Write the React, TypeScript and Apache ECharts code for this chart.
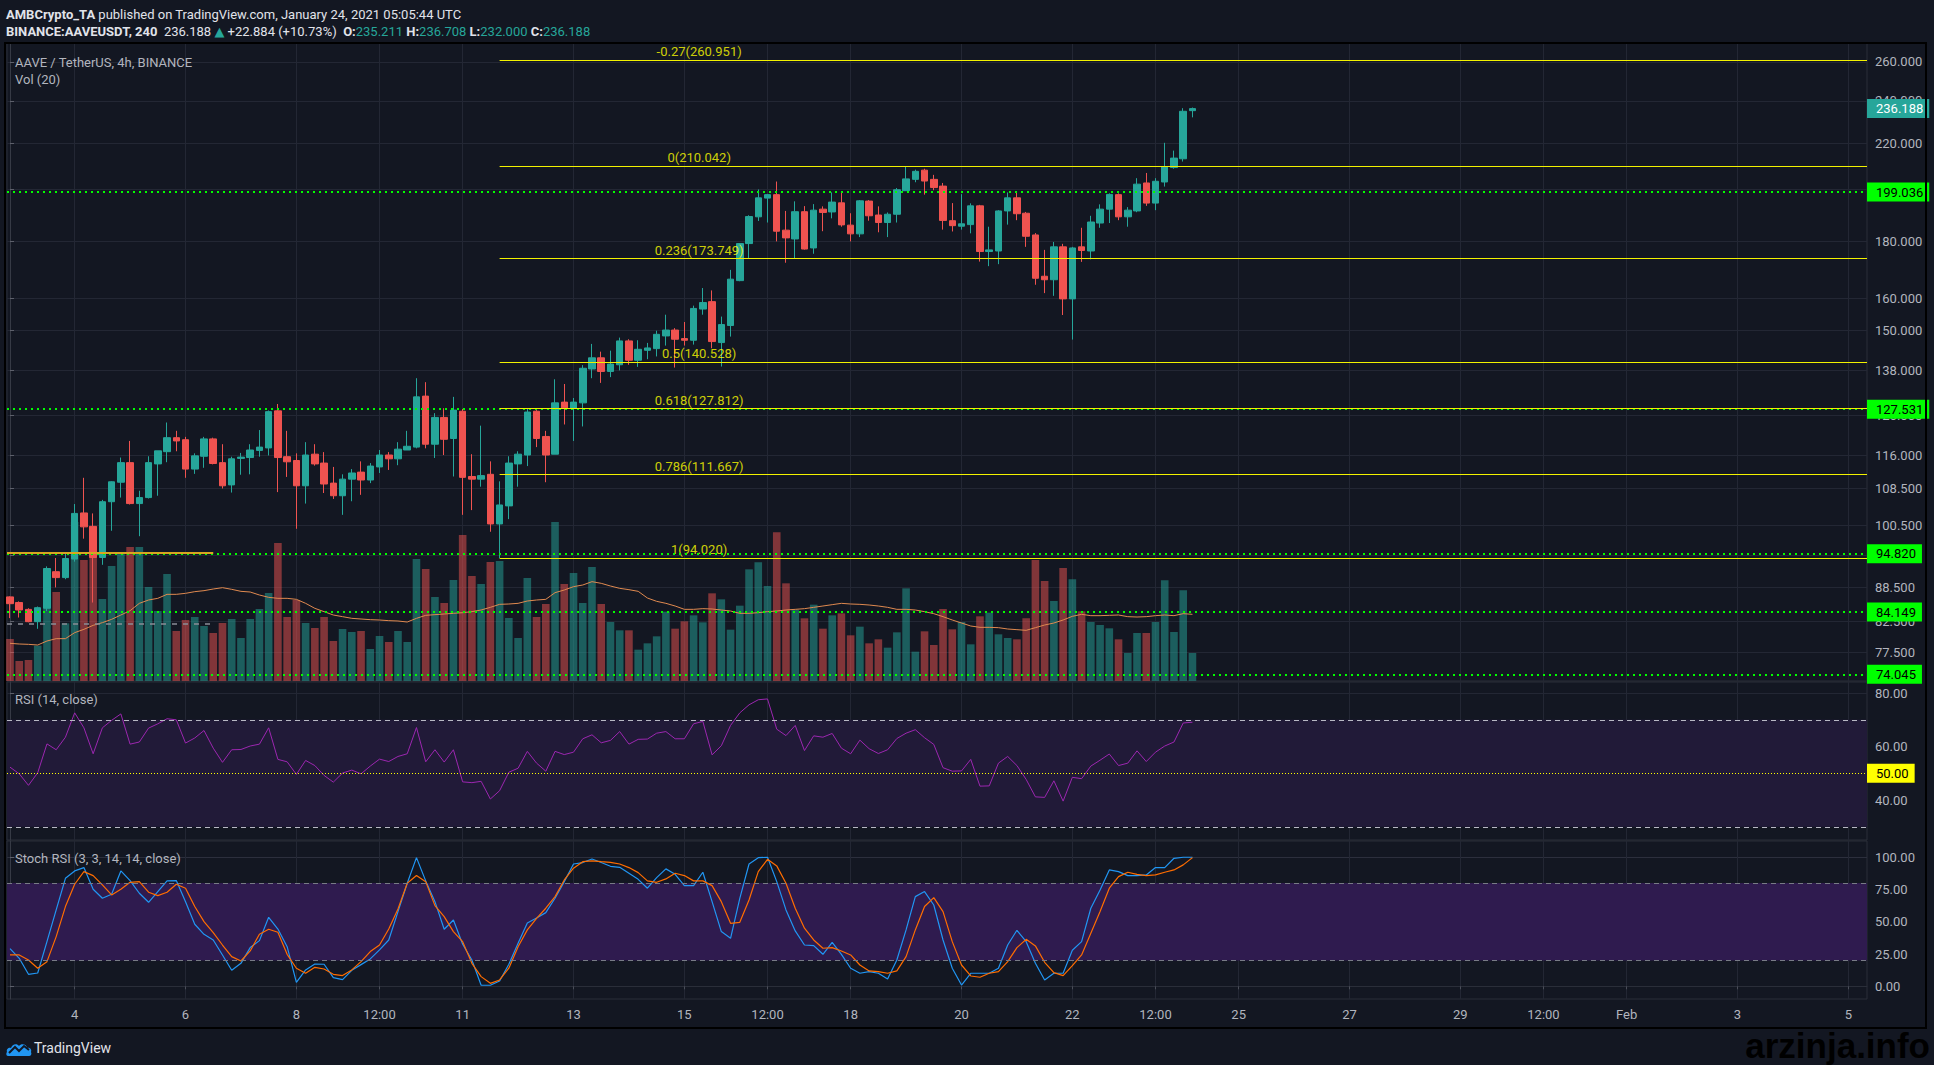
import React, { useEffect, useRef } from "react";
import * as echarts from "echarts";

// ---------- DATA (4h candles, index 0 = Jan 2 20:00, index 7 = Jan 4 00:00) ----------
const opens = [
  86.8, 85.8, 84.6, 82.5, 84.8, 91.4, 90.3, 93.8, 103.1, 100.3,
  94.1, 105.5, 109.8, 114.3, 105.1, 106.4, 114.0, 116.9, 120.3, 119.8,
  112.8, 115.8, 120.0, 114.3, 109.2, 115.3, 115.5, 117.2, 117.8, 127.1,
  115.7, 114.8, 109.0, 116.3, 114.2, 109.6, 106.8, 110.5, 112.1, 110.3,
  113.3, 116.1, 115.2, 117.3, 118.0, 131.0, 118.7, 125.4, 120.1, 127.0,
  111.1, 110.5, 111.6, 100.8, 104.6, 114.0, 116.1, 127.0, 120.6, 116.3,
  129.4, 127.8, 129.2, 138.5, 141.7, 137.8, 139.7, 146.7, 141.0, 143.9,
  144.4, 148.2, 150.0, 147.4, 146.9, 156.6, 159.0, 146.2, 151.4, 166.0,
  179.1, 189.2, 196.6, 198.0, 184.1, 180.8, 191.2, 177.5, 192.2, 191.1,
  194.7, 186.0, 182.7, 195.4, 189.9, 187.0, 190.2, 199.6, 204.3, 208.2,
  204.3, 201.5, 187.7, 185.6, 186.2, 193.5, 176.2, 176.4, 191.5, 196.7,
  190.6, 182.3, 167.5, 166.3, 177.9, 159.9, 177.9, 176.4, 186.8, 192.2,
  198.0, 189.2, 191.5, 202.8, 194.6, 203.2, 209.3, 213.1, 235.211,
];
const highs = [
  86.9, 86.0, 84.8, 85.1, 92.4, 94.0, 95.0, 105.0, 110.8, 103.0,
  105.9, 110.0, 115.5, 119.5, 107.9, 115.8, 117.1, 124.1, 122.0, 120.5,
  116.5, 120.5, 120.3, 118.7, 115.7, 116.6, 118.7, 122.2, 127.2, 128.9,
  122.0, 116.5, 119.2, 118.7, 116.8, 113.3, 111.6, 112.8, 114.6, 114.2,
  117.3, 116.8, 119.2, 122.0, 135.9, 134.8, 126.5, 127.8, 130.8, 127.6,
  116.3, 123.3, 114.6, 110.0, 115.8, 117.0, 127.8, 127.3, 122.0, 135.6,
  134.3, 130.5, 139.6, 145.8, 143.5, 143.8, 147.7, 147.2, 146.9, 146.1,
  149.8, 154.8, 150.6, 152.5, 157.7, 163.5, 162.7, 154.2, 169.7, 179.3,
  189.8, 200.1, 198.3, 203.4, 191.5, 195.3, 193.4, 194.2, 193.3, 198.9,
  199.3, 190.6, 195.8, 195.8, 193.3, 190.9, 200.7, 209.7, 208.4, 208.8,
  206.2, 202.8, 194.6, 198.2, 194.5, 193.9, 185.4, 191.8, 198.9, 198.9,
  191.1, 183.0, 176.8, 179.7, 179.0, 177.9, 185.0, 189.6, 194.1, 198.5,
  198.5, 193.0, 204.8, 207.0, 204.8, 220.2, 216.7, 236.4, 236.708,
];
const lows = [
  83.1, 83.2, 82.4, 81.3, 84.3, 88.5, 90.0, 93.3, 97.8, 85.8,
  92.7, 99.4, 106.4, 104.9, 98.3, 106.2, 106.8, 114.4, 117.0, 110.8,
  111.7, 113.1, 113.9, 108.4, 107.5, 111.5, 111.6, 115.7, 116.0, 107.6,
  111.0, 99.8, 105.1, 113.6, 107.4, 106.1, 102.7, 105.6, 107.0, 109.6,
  111.9, 112.6, 113.7, 117.3, 117.7, 117.7, 115.4, 116.1, 111.1, 102.7,
  103.7, 108.8, 99.2, 94.0, 101.8, 108.8, 113.5, 118.0, 109.8, 116.3,
  123.6, 119.5, 123.1, 135.9, 134.6, 136.2, 138.1, 139.7, 139.1, 141.3,
  142.1, 145.3, 138.9, 145.3, 145.6, 154.8, 144.5, 139.2, 148.0, 165.8,
  173.8, 187.6, 187.0, 179.9, 172.2, 173.8, 176.9, 175.4, 183.7, 188.6,
  185.4, 179.9, 181.5, 187.7, 183.3, 181.5, 187.0, 199.6, 203.1, 198.0,
  199.8, 184.3, 183.6, 184.3, 182.9, 172.6, 171.0, 171.7, 186.2, 187.9,
  177.9, 164.6, 161.8, 160.9, 154.7, 147.1, 172.5, 173.4, 185.0, 186.8,
  187.9, 185.4, 191.0, 193.5, 191.8, 201.3, 208.8, 211.9, 232.0,
];
const closes = [
  85.6, 84.5, 82.5, 84.9, 92.0, 90.3, 93.9, 103.0, 100.2, 94.1,
  105.5, 109.9, 114.3, 105.1, 106.4, 114.3, 117.1, 120.3, 119.5, 112.8,
  115.9, 120.0, 114.1, 109.0, 115.2, 115.6, 117.3, 118.0, 126.9, 115.5,
  114.5, 109.0, 116.1, 114.0, 109.4, 106.8, 110.5, 111.9, 110.3, 113.5,
  116.1, 115.2, 117.5, 118.2, 130.8, 118.7, 125.4, 119.9, 127.3, 110.9,
  110.5, 111.3, 100.8, 104.8, 114.2, 116.3, 126.8, 120.1, 116.1, 129.2,
  127.9, 129.4, 138.7, 141.7, 137.8, 139.9, 146.7, 141.0, 144.2, 144.6,
  148.7, 150.0, 147.2, 146.9, 156.8, 158.7, 146.5, 151.7, 166.5, 179.1,
  189.3, 196.7, 198.0, 183.7, 181.2, 191.2, 177.1, 191.8, 190.9, 195.0,
  186.1, 182.7, 195.5, 189.6, 187.0, 190.2, 200.0, 204.5, 207.7, 203.6,
  200.9, 187.8, 185.8, 186.5, 193.5, 176.2, 176.8, 191.5, 196.7, 190.4,
  181.8, 166.8, 166.3, 177.9, 159.9, 177.5, 176.6, 187.2, 192.2, 198.1,
  189.2, 191.8, 202.3, 194.6, 203.5, 209.7, 213.4, 234.9, 236.188,
];
// volume in thousands AAVE (estimated)
const volumes = [
  12.6, 6.0, 6.3, 10.6, 33.0, 26.7, 17.3, 47.7, 36.3, 42.6,
  24.6, 34.5, 38.2, 40.2, 40.2, 28.2, 21.0, 32.1, 15.0, 18.3,
  19.2, 16.5, 14.4, 17.4, 18.6, 12.9, 18.6, 21.6, 26.4, 41.4,
  19.2, 24.3, 17.4, 15.9, 19.2, 12.0, 15.6, 14.7, 15.0, 9.6,
  13.5, 11.7, 15.0, 11.7, 36.6, 33.6, 25.2, 23.4, 30.3, 43.8,
  31.5, 29.1, 35.7, 36.0, 18.9, 12.9, 30.9, 19.2, 23.1, 47.7,
  29.1, 32.4, 23.4, 34.2, 23.1, 17.7, 15.2, 15.2, 9.4, 11.3,
  13.4, 20.8, 15.7, 17.9, 19.7, 17.6, 26.3, 24.5, 15.4, 22.6,
  33.5, 35.6, 28.5, 44.6, 29.3, 21.4, 18.8, 22.9, 15.7, 19.7,
  20.3, 13.7, 16.3, 11.3, 12.5, 10.0, 14.6, 27.8, 8.8, 14.9,
  10.8, 21.6, 15.5, 17.7, 11.0, 19.4, 20.5, 14.0, 12.9, 12.5,
  18.8, 36.3, 30.0, 24.0, 33.9, 30.5, 20.9, 17.7, 16.8, 15.8,
  12.5, 8.4, 14.4, 14.4, 17.7, 30.2, 14.7, 27.2, 8.4,
];
const volumeMA = [
  11.3, 11.1, 11.0, 10.8, 12.0, 12.7, 12.7, 14.5, 15.5, 16.7,
  17.5, 18.5, 19.8, 21.1, 23.3, 24.3, 24.8, 26.0, 26.0, 26.3,
  26.8, 27.1, 27.6, 28.0, 27.5, 26.9, 26.7, 25.8, 25.1, 24.8,
  24.8, 24.5, 23.3, 21.8, 20.8, 19.8, 19.3, 18.8, 18.6, 18.4,
  18.3, 18.1, 18.0, 17.7, 18.8, 19.7, 19.9, 20.1, 20.3, 20.5,
  20.8, 21.3, 22.1, 23.0, 23.1, 23.3, 24.0, 24.3, 24.5, 26.5,
  27.3, 28.3, 28.8, 29.8, 29.3, 28.5, 27.8, 27.4, 26.9, 24.9,
  23.9, 23.3, 22.5, 21.5, 21.5, 21.7, 21.6, 21.3, 21.0, 20.3,
  20.3, 20.5, 20.8, 21.0, 21.3, 21.5, 21.7, 22.1, 22.5, 22.9,
  23.3, 23.1, 23.0, 22.8, 22.5, 22.1, 21.5, 21.5, 21.3, 20.8,
  20.2, 19.3, 18.3, 17.4, 16.5, 16.1, 16.1, 16.0, 15.6, 15.4,
  15.2, 16.0, 16.8, 17.4, 18.3, 19.4, 20.0, 19.6, 19.6, 19.7,
  19.8, 19.3, 19.2, 19.3, 19.6, 19.8, 19.6, 20.2, 20.0,
];
const rsi = [
  52.3, 49.8, 45.5, 50.2, 61.0, 58.8, 63.5, 72.6, 67.0, 57.3,
  67.0, 69.8, 72.2, 60.9, 61.7, 66.9, 68.5, 70.4, 70.0, 61.3,
  63.2, 66.0, 59.4, 54.1, 58.8, 58.9, 60.2, 60.9, 67.0, 55.2,
  54.3, 49.6, 54.8, 52.9, 49.2, 46.7, 50.1, 51.2, 49.8, 52.7,
  55.3, 54.4, 56.3, 57.3, 67.1, 54.3, 58.8, 54.2, 58.8, 46.8,
  46.5, 47.0, 40.4, 43.5, 50.4, 51.9, 58.2, 53.8, 50.8, 58.2,
  57.0, 57.9, 62.9, 64.4, 61.4, 62.3, 65.6, 60.9, 62.7, 62.8,
  65.0, 65.6, 62.9, 62.9, 68.5, 69.4, 56.9, 60.3, 67.9, 72.6,
  75.6, 77.5, 77.8, 66.5, 64.1, 67.9, 58.5, 64.0, 63.5, 64.9,
  59.4, 57.3, 62.4, 59.2, 57.4, 58.8, 63.0, 65.0, 66.3, 63.3,
  60.8, 52.1, 50.8, 50.9, 55.2, 45.2, 45.3, 53.8, 56.3, 52.9,
  47.7, 41.2, 41.0, 47.2, 39.6, 48.5, 48.0, 52.7, 54.9, 57.2,
  52.9, 53.8, 58.4, 54.4, 57.9, 60.2, 61.7, 68.8, 69.1,
];
const stochK = [
  29.2, 21.7, 9.3, 10.3, 34.6, 59.2, 83.7, 89.4, 92.0, 75.2,
  68.2, 71.3, 89.4, 81.9, 72.1, 65.1, 73.4, 81.7, 81.9, 65.6,
  48.1, 40.3, 35.9, 24.3, 12.4, 17.8, 30.0, 35.4, 53.5, 44.4,
  30.7, 3.1, 12.7, 17.3, 17.1, 6.7, 5.2, 12.4, 16.8, 21.2,
  28.2, 35.9, 57.9, 79.8, 99.7, 81.7, 65.6, 44.2, 51.4, 32.6,
  20.4, 0.8, 0.8, 4.1, 17.1, 33.3, 49.1, 53.0, 57.1, 68.2,
  81.1, 94.8, 95.9, 98.7, 95.9, 93.0, 92.2, 87.6, 82.9, 76.0,
  84.2, 91.0, 86.8, 78.0, 78.0, 88.4, 65.6, 42.4, 37.2, 68.2,
  94.8, 99.7, 100, 81.1, 59.2, 42.9, 32.0, 31.5, 24.8, 34.1,
  24.8, 14.0, 10.1, 11.4, 10.1, 5.7, 20.4, 43.7, 69.5, 73.4,
  63.0, 35.9, 14.0, 1.0, 10.1, 10.1, 10.1, 14.0, 32.0, 43.4,
  34.6, 17.8, 4.9, 10.1, 10.1, 27.9, 34.6, 60.5, 74.7, 90.2,
  88.9, 85.8, 85.8, 86.3, 92.0, 92.0, 99.2, 100, 100,
];
const stochD = [
  24.3, 24.3, 20.4, 14.0, 19.1, 38.5, 61.8, 79.1, 88.9, 85.8,
  78.6, 70.8, 75.2, 80.6, 81.1, 72.9, 70.3, 72.9, 79.1, 76.0,
  61.8, 50.1, 41.6, 32.0, 23.0, 19.6, 27.4, 40.3, 44.2, 41.9,
  24.8, 14.0, 10.1, 14.7, 13.4, 9.3, 8.3, 12.7, 19.1, 26.9,
  32.0, 44.4, 59.9, 79.8, 85.8, 81.1, 62.5, 54.0, 42.4, 34.6,
  17.8, 7.5, 2.3, 4.9, 14.0, 30.7, 43.7, 52.7, 60.5, 69.5,
  82.4, 91.5, 96.6, 97.2, 96.6, 96.1, 94.8, 92.0, 88.1, 81.7,
  80.6, 83.2, 87.6, 85.8, 81.7, 81.7, 78.0, 65.6, 48.8, 49.6,
  66.9, 88.9, 98.4, 93.3, 79.8, 60.5, 45.0, 35.9, 29.5, 30.0,
  27.4, 24.3, 16.5, 11.9, 11.4, 10.1, 11.9, 23.0, 43.7, 61.8,
  68.7, 57.9, 34.6, 16.5, 8.0, 7.0, 10.1, 11.4, 19.1, 30.0,
  36.4, 31.3, 18.6, 10.6, 8.3, 16.0, 24.3, 41.1, 57.9, 76.0,
  85.0, 88.4, 86.8, 85.8, 86.3, 88.4, 90.2, 94.1, 99.7,
];
// time axis ticks (candle index -> label)
const timeTickIdx = [7, 19, 31, 40, 49, 61, 73, 82, 91, 103, 115, 124, 133, 145, 157, 166, 175, 187, 199];
const timeTickText = ["4", "6", "8", "12:00", "11", "13", "15", "12:00", "18", "20", "22", "12:00", "25", "27", "29", "12:00", "Feb", "3", "5"];
const priceTicks = [77.5, 82.5, 88.5, 94.5, 100.5, 108.5, 116, 126, 138, 150, 160, 180, 200, 220, 240, 260];
const rsiTicks = [40, 60, 80];
const stochTicks = [0, 25, 50, 75, 100];
// Fibonacci retracement (drawn from the candle at index 53)
const fibLevels = [-0.27, 0, 0.236, 0.5, 0.618, 0.786, 1];
const fibPrices = [260.951, 210.042, 173.749, 140.528, 127.812, 111.667, 94.02];
const fibStartIdx = 53;
const fibLabelIdx = 74.6;
// horizontal support / resistance lines
const hLevels = [199.036, 127.531, 94.82, 84.149, 74.045];
const lastPrice = 236.188;
const oldLevel = 95.1;
const oldDashLevel = 82.15;
const oldLineEndIdx = 22;

// ---------- layout ----------
const XMIN = -0.325;
const XMAX = 201.02;
const FONT = 'Roboto, "DejaVu Sans", sans-serif';
const TXT = "#b2b5be";
const GRIDC = "#232734";
const UP = "#26a69a";
const DOWN = "#ef5350";

function tickLabel(v: number) {
  const k = timeTickIdx.indexOf(Math.round(v));
  return k >= 0 ? timeTickText[k] : "";
}

const logoPath =
  "M2 16 C0 16 0 13 1 12 C0 9 3 7 5 8 C6 4 11 3 13 6 C15 3 21 4 21 8 C24 7 26 10 25 12 C26 14 25 16 23 16 Z";
echarts.graphic.registerShape("tvlogo", echarts.graphic.extendPath(logoPath, {}));

export default function App() {
  const ref = useRef<HTMLDivElement>(null);
  useEffect(() => {
    if (!ref.current) return;
    const chart = echarts.init(ref.current, undefined, { renderer: "svg" });

    const xAxisFor = (gi: number, show: boolean) => ({
      type: "value",
      gridIndex: gi,
      min: XMIN,
      max: XMAX,
      axisLine: { show, lineStyle: { color: "#2a2e39" } },
      axisTick: { show, customValues: timeTickIdx, length: 3, lineStyle: { color: "#4a4e59" } },
      axisLabel: {
        show,
        customValues: timeTickIdx,
        formatter: tickLabel,
        color: TXT,
        fontSize: 13,
        fontFamily: FONT,
        margin: 9,
      },
      splitLine: { show: true, lineStyle: { color: GRIDC, width: 1 } },
    });

    const yLabel = (ticks: number[], digits: number) => ({
      customValues: ticks,
      formatter: (v: number) => v.toFixed(digits),
      color: TXT,
      fontSize: 13,
      fontFamily: FONT,
      margin: 8,
    });
    const yTick = (ticks: number[]) => ({
      show: true,
      customValues: ticks,
      length: 4,
      lineStyle: { color: "#5d606b" },
    });

    const candleData = opens.map((o, i) => [i, o, closes[i], lows[i], highs[i]]);
    const volData = volumes.map((v, i) => ({
      value: [i, v],
      itemStyle: {
        color: closes[i] >= opens[i] ? "rgba(38,166,154,0.5)" : "rgba(239,83,80,0.5)",
      },
    }));

    const boxLabel = (bg: string, fg: string) => ({
      show: true,
      position: "end",
      distance: 0,
      backgroundColor: bg,
      color: fg,
      fontSize: 13,
      fontFamily: FONT,
      padding: [3, 6, 3, 9],
      formatter: "{b}",
    });

    const option: any = {
      animation: false,
      backgroundColor: "#131722",
      grid: [
        { left: 7, top: 43, width: 1860, height: 638, show: true, borderColor: "#2a2e39", borderWidth: 1 },
        { left: 7, top: 682, width: 1860, height: 158, show: true, borderColor: "#2a2e39", borderWidth: 1 },
        { left: 7, top: 841, width: 1860, height: 158, show: true, borderColor: "#2a2e39", borderWidth: 1 },
      ],
      xAxis: [xAxisFor(0, false), xAxisFor(1, false), xAxisFor(2, true)],
      yAxis: [
        {
          type: "log",
          logBase: 10,
          gridIndex: 0,
          position: "right",
          min: 73.05,
          max: 270.2,
          axisLine: { show: true, lineStyle: { color: "#363a45" } },
          axisTick: yTick(priceTicks),
          axisLabel: yLabel(priceTicks, 3),
          splitLine: { show: true, lineStyle: { color: GRIDC } },
        },
        {
          type: "value",
          gridIndex: 0,
          min: 0,
          max: 191.4,
          show: false,
          splitLine: { show: false },
        },
        {
          type: "value",
          gridIndex: 1,
          position: "right",
          min: 25.07,
          max: 84.13,
          axisLine: { show: true, lineStyle: { color: "#363a45" } },
          axisTick: yTick(rsiTicks),
          axisLabel: yLabel(rsiTicks, 2),
          splitLine: { show: true, lineStyle: { color: GRIDC } },
        },
        {
          type: "value",
          gridIndex: 2,
          position: "right",
          min: -9.84,
          max: 112.6,
          axisLine: { show: true, lineStyle: { color: "#363a45" } },
          axisTick: yTick(stochTicks),
          axisLabel: yLabel(stochTicks, 2),
          splitLine: { show: true, lineStyle: { color: "#2c2f3d" } },
        },
      ],
      series: [
        {
          type: "bar",
          name: "Volume",
          xAxisIndex: 0,
          yAxisIndex: 1,
          data: volData,
          barWidth: 7.6,
          z: 1,
        },
        {
          type: "line",
          name: "Vol MA",
          xAxisIndex: 0,
          yAxisIndex: 1,
          data: volumeMA.map((v, i) => [i, v]),
          symbol: "none",
          lineStyle: { color: "#e08a50", width: 1 },
          z: 2,
        },
        {
          type: "candlestick",
          name: "AAVEUSDT",
          xAxisIndex: 0,
          yAxisIndex: 0,
          data: candleData,
          encode: { x: 0, y: [1, 2, 3, 4] },
          barWidth: 7,
          itemStyle: {
            color: UP,
            color0: DOWN,
            borderColor: UP,
            borderColor0: DOWN,
            borderWidth: 1,
          },
          z: 3,
          markLine: {
            silent: true,
            symbol: ["none", "none"],
            lineStyle: { color: "#00ff00", type: [2, 4], width: 2 },
            label: boxLabel("#00ff00", "#000000"),
            data: [
              ...hLevels.map((v) => ({ yAxis: v, name: v.toFixed(3) })),
              {
                yAxis: lastPrice,
                name: lastPrice.toFixed(3),
                lineStyle: { color: "rgba(0,0,0,0)", width: 0 },
                label: boxLabel(UP, "#ffffff"),
              },
            ],
          },
        },
        {
          type: "scatter",
          name: "Fib",
          xAxisIndex: 0,
          yAxisIndex: 0,
          symbolSize: 1,
          itemStyle: { color: "rgba(0,0,0,0)" },
          data: fibPrices.map((p, k) => ({
            value: [fibLabelIdx, p],
            name: `${fibLevels[k]}(${p.toFixed(3)})`,
          })),
          label: {
            show: true,
            position: "top",
            distance: 1,
            formatter: "{b}",
            color: "#ffff00",
            fontSize: 13,
            fontFamily: FONT,
          },
          z: 4,
          markLine: {
            silent: true,
            symbol: ["none", "none"],
            label: { show: false },
            lineStyle: { color: "#f2f200", width: 1, type: "solid" },
            data: [
              ...fibPrices.map((p) => [{ coord: [fibStartIdx, p] }, { coord: [XMAX, p] }]),
              [
                { coord: [XMIN, oldLevel], lineStyle: { color: "#d9a520", width: 2, type: "solid" } },
                { coord: [oldLineEndIdx, oldLevel] },
              ],
              [
                { coord: [XMIN, oldDashLevel], lineStyle: { color: "#8a8d96", width: 1.5, type: [5, 6] } },
                { coord: [oldLineEndIdx, oldDashLevel] },
              ],
            ],
          },
        },
        {
          type: "line",
          name: "RSI",
          xAxisIndex: 1,
          yAxisIndex: 2,
          data: rsi.map((v, i) => [i, v]),
          symbol: "none",
          lineStyle: { color: "#9c27b0", width: 1 },
          z: 3,
          markArea: {
            silent: true,
            itemStyle: { color: "#211a38" },
            data: [[{ yAxis: 70 }, { yAxis: 30 }]],
          },
          markLine: {
            silent: true,
            symbol: ["none", "none"],
            label: { show: false },
            lineStyle: { color: "#b8b8c4", type: [5, 4], width: 1 },
            data: [
              { yAxis: 70 },
              { yAxis: 30 },
              {
                yAxis: 50,
                name: "50.00",
                lineStyle: { color: "#ffff00", type: [1, 2], width: 1 },
                label: {
                  show: true,
                  position: "end",
                  distance: 0,
                  backgroundColor: "#ffff00",
                  color: "#000000",
                  fontSize: 13,
                  fontFamily: FONT,
                  padding: [3, 6, 3, 9],
                  formatter: "{b}",
                },
              },
            ],
          },
        },
        {
          type: "line",
          name: "%K",
          xAxisIndex: 2,
          yAxisIndex: 3,
          data: stochK.map((v, i) => [i, v]),
          symbol: "none",
          lineStyle: { color: "#2196f3", width: 1.2 },
          z: 3,
          markArea: {
            silent: true,
            itemStyle: { color: "#2f1b4f" },
            data: [[{ yAxis: 80 }, { yAxis: 20 }]],
          },
          markLine: {
            silent: true,
            symbol: ["none", "none"],
            label: { show: false },
            lineStyle: { color: "#787b86", type: [5, 4], width: 1 },
            data: [{ yAxis: 80 }, { yAxis: 20 }],
          },
        },
        {
          type: "line",
          name: "%D",
          xAxisIndex: 2,
          yAxisIndex: 3,
          data: stochD.map((v, i) => [i, v]),
          symbol: "none",
          lineStyle: { color: "#ff6d00", width: 1.2 },
          z: 4,
        },
      ],
      graphic: [
        {
          type: "rect",
          z: 50,
          shape: { x: 5, y: 43, width: 1921, height: 985 },
          style: { fill: "none", stroke: "#000000", lineWidth: 2 },
        },
        {
          type: "text",
          z: 60,
          x: 6,
          y: 14,
          style: {
            text: "{b|AMBCrypto_TA} published on TradingView.com, January 24, 2021 05:05:44 UTC",
            fill: "#e1e3ea",
            fontSize: 13,
            fontFamily: FONT,
            verticalAlign: "middle",
            textVerticalAlign: "middle",
            rich: { b: { fontWeight: "bold", fill: "#e1e3ea", fontSize: 13, fontFamily: FONT } },
          },
        },
        {
          type: "text",
          z: 60,
          x: 6,
          y: 31,
          style: {
            text:
              "{b|BINANCE:AAVEUSDT, 240}  236.188 {t|▲} +22.884 (+10.73%)  {b|O:}{t|235.211} {b|H:}{t|236.708} {b|L:}{t|232.000} {b|C:}{t|236.188}",
            fill: "#e1e3ea",
            fontSize: 13,
            fontFamily: FONT,
            verticalAlign: "middle",
            textVerticalAlign: "middle",
            rich: {
              b: { fontWeight: "bold", fill: "#e1e3ea", fontSize: 13, fontFamily: FONT },
              t: { fill: UP, fontSize: 13, fontFamily: FONT },
            },
          },
        },
        ...[
          ["AAVE / TetherUS, 4h, BINANCE", 62],
          ["Vol (20)", 79],
          ["RSI (14, close)", 699],
          ["Stoch RSI (3, 3, 14, 14, close)", 858],
        ].map(([t, y]) => ({
          type: "text",
          z: 60,
          x: 15,
          y: y as number,
          style: {
            text: t as string,
            fill: TXT,
            fontSize: 13,
            fontFamily: FONT,
            verticalAlign: "middle",
            textVerticalAlign: "middle",
          },
        })),
        {
          type: "tvlogo",
          z: 60,
          x: 6,
          y: 1040,
          scaleX: 1,
          scaleY: 1,
          style: { fill: "#2196f3" },
        },
        {
          type: "polyline",
          z: 61,
          shape: { points: [[9, 1053], [15, 1047], [19, 1051], [24, 1046], [29, 1050]] },
          style: { stroke: "#131722", lineWidth: 2, fill: "none" },
        },
        {
          type: "text",
          z: 60,
          x: 34,
          y: 1048,
          style: {
            text: "TradingView",
            fill: "#e1e3ea",
            fontSize: 14,
            fontFamily: FONT,
            verticalAlign: "middle",
            textVerticalAlign: "middle",
          },
        },
        {
          type: "text",
          z: 60,
          x: 1930,
          y: 1045,
          style: {
            text: "arzinja.info",
            fill: "#000000",
            fontSize: 35,
            fontWeight: "bold",
            fontFamily: '"Liberation Sans", Arial, sans-serif',
            align: "right",
            textAlign: "right",
            verticalAlign: "middle",
            textVerticalAlign: "middle",
          },
        },
      ],
    };

    chart.setOption(option);
    return () => chart.dispose();
  }, []);

  return (
    <div
      ref={ref}
      style={{ position: "fixed", left: 0, top: 0, width: 1934, height: 1065, background: "#131722" }}
    />
  );
}
